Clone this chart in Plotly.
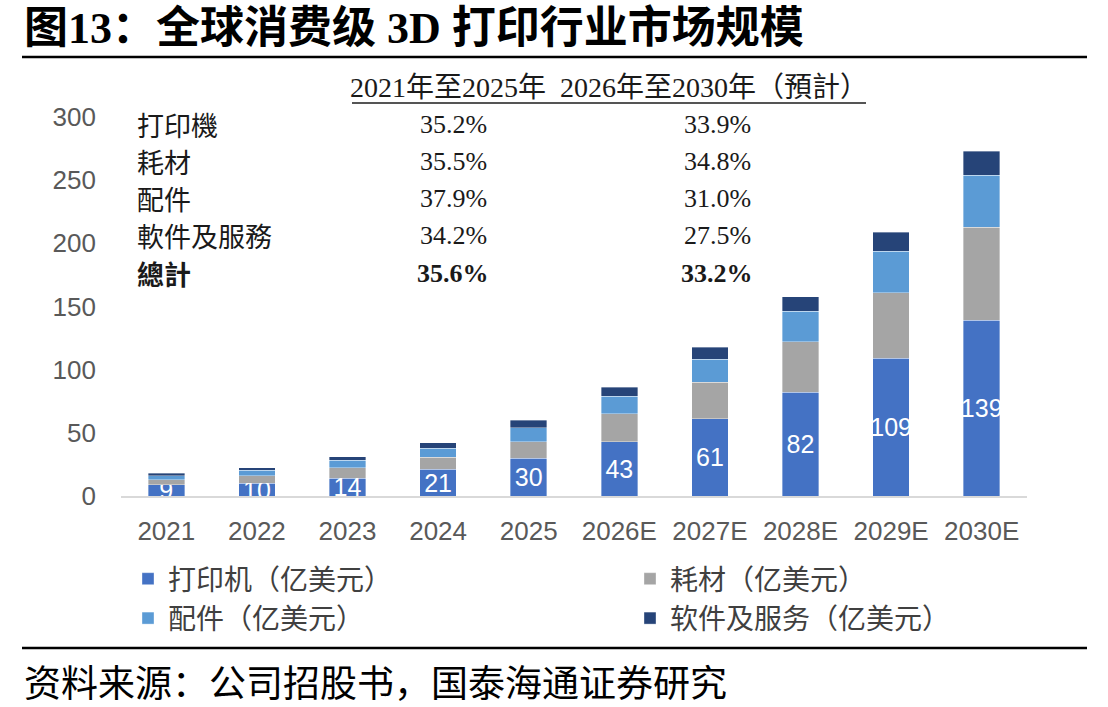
import plotly.graph_objects as go

years = ["2021", "2022", "2023", "2024", "2025", "2026E", "2027E", "2028E", "2029E", "2030E"]
printer = [9, 10, 14, 21, 30, 43, 61, 82, 109, 139]
consumables = [4.0, 6.0, 8.2, 9.7, 12.9, 22.0, 29.2, 40.0, 52.0, 73.6]
accessories = [3.1, 4.2, 6.1, 7.1, 11.0, 13.9, 18.2, 24.2, 32.9, 41.3]
software = [1.8, 2.1, 2.9, 4.2, 6.1, 7.1, 9.5, 11.6, 15.0, 18.9]

series_names = ["打印机（亿美元）", "耗材（亿美元）", "配件（亿美元）", "软件及服务（亿美元）"]
series_colors = ["#4472C4", "#A5A5A5", "#5B9BD5", "#264478"]
series_legend = ["legend", "legend2", "legend", "legend2"]

table_header = "2021年至2025年  2026年至2030年（預計）"
table_rows = ["打印機", "耗材", "配件", "軟件及服務", "總計"]
cagr_2021_2025 = ["35.2%", "35.5%", "37.9%", "34.2%", "35.6%"]
cagr_2026_2030 = ["33.9%", "34.8%", "31.0%", "27.5%", "33.2%"]

title_text = "图13：全球消费级 3D 打印行业市场规模"
source_text = "资料来源：公司招股书，国泰海通证券研究"

W, H = 1108, 707
def py(y):
    return 1 - y / H
def px(x):
    return x / W

fig = go.Figure()
for i, (vals, name, col, lg) in enumerate(zip([printer, consumables, accessories, software],
                                               series_names, series_colors, series_legend)):
    kw = {}
    if i == 0:
        kw = dict(text=[str(v) for v in printer], textposition="inside", insidetextanchor="middle",
                  constraintext="none", textangle=0,
                  textfont=dict(family="Liberation Sans, Arial", size=25, color="white"))
    fig.add_trace(go.Bar(x=years, y=vals, name=name, legend=lg, legendgroup="g%d" % i,
                         marker=dict(color=col, line=dict(color="rgba(255,255,255,0.6)", width=0.6)),
                         hoverinfo="skip", **kw))

legend_font = dict(family="Noto Sans CJK SC", size=28, color="#404040")
fig.update_layout(
    width=W, height=H,
    margin=dict(l=0, r=0, t=0, b=0, autoexpand=False),
    paper_bgcolor="white", plot_bgcolor="white",
    barmode="stack", bargap=0.597,
    showlegend=True,
    legend=dict(orientation="v", traceorder="normal", x=px(128), y=py(554), xanchor="left", yanchor="top",
                font=legend_font, itemwidth=30, tracegroupgap=12, bgcolor="rgba(0,0,0,0)"),
    legend2=dict(orientation="v", traceorder="normal", x=px(630), y=py(554), xanchor="left", yanchor="top",
                 font=legend_font, itemwidth=30, tracegroupgap=12, bgcolor="rgba(0,0,0,0)"),
    xaxis=dict(domain=[px(121), px(1027)], showline=True, linecolor="#D9D9D9", linewidth=2,
               showgrid=False, zeroline=False, ticks="", ticklabelstandoff=11,
               tickfont=dict(family="Liberation Sans, Arial", size=26, color="#595959")),
    yaxis=dict(domain=[py(496), py(117)], range=[0, 300], tickvals=[0, 50, 100, 150, 200, 250, 300],
               showline=False, showgrid=False, zeroline=False, ticks="", ticklabelstandoff=24,
               tickfont=dict(family="Liberation Sans, Arial", size=26, color="#595959")),
)

shapes = []
shapes.append(dict(type="line", xref="paper", yref="paper", x0=px(22), x1=px(1087), y0=py(57), y1=py(57),
                   line=dict(color="black", width=2.5)))
shapes.append(dict(type="line", xref="paper", yref="paper", x0=px(22), x1=px(1087), y0=py(648), y1=py(648),
                   line=dict(color="black", width=2.5)))
shapes.append(dict(type="line", xref="paper", yref="paper", x0=px(352), x1=px(866), y0=py(103), y1=py(103),
                   line=dict(color="#555555", width=2)))
fig.update_layout(shapes=shapes)

ann = []
ann.append(dict(text="<b>" + title_text + "</b>", x=px(22), y=py(28), xref="paper", yref="paper",
                xanchor="left", yanchor="middle", showarrow=False,
                font=dict(family="Liberation Serif, Noto Sans CJK SC", size=44, color="black")))
ann.append(dict(text=source_text, x=px(22), y=py(681), xref="paper", yref="paper",
                xanchor="left", yanchor="middle", showarrow=False,
                font=dict(family="Noto Sans CJK SC", size=37, color="black")))
ann.append(dict(text=table_header, x=px(609), y=py(88), xref="paper", yref="paper",
                xanchor="center", yanchor="middle", showarrow=False,
                font=dict(family="Liberation Serif, Noto Sans CJK TC", size=28, color="#1a1a1a")))
row_y = [124, 161, 198, 236, 273]
for i, (lab, a, b) in enumerate(zip(table_rows, cagr_2021_2025, cagr_2026_2030)):
    bold = i == len(table_rows) - 1
    wrap = (lambda s: "<b>" + s + "</b>") if bold else (lambda s: s)
    ann.append(dict(text=wrap(lab), x=px(135), y=py(row_y[i]), xref="paper", yref="paper",
                    xanchor="left", yanchor="middle", showarrow=False,
                    font=dict(family="Noto Sans CJK TC", size=27, color="#1a1a1a")))
    ann.append(dict(text=wrap(a), x=px(453), y=py(row_y[i]), xref="paper", yref="paper",
                    xanchor="center", yanchor="middle", showarrow=False,
                    font=dict(family="Liberation Serif", size=26, color="#1a1a1a")))
    ann.append(dict(text=wrap(b), x=px(717), y=py(row_y[i]), xref="paper", yref="paper",
                    xanchor="center", yanchor="middle", showarrow=False,
                    font=dict(family="Liberation Serif", size=26, color="#1a1a1a")))
fig.update_layout(annotations=ann)

fig.write_html("out.html")
